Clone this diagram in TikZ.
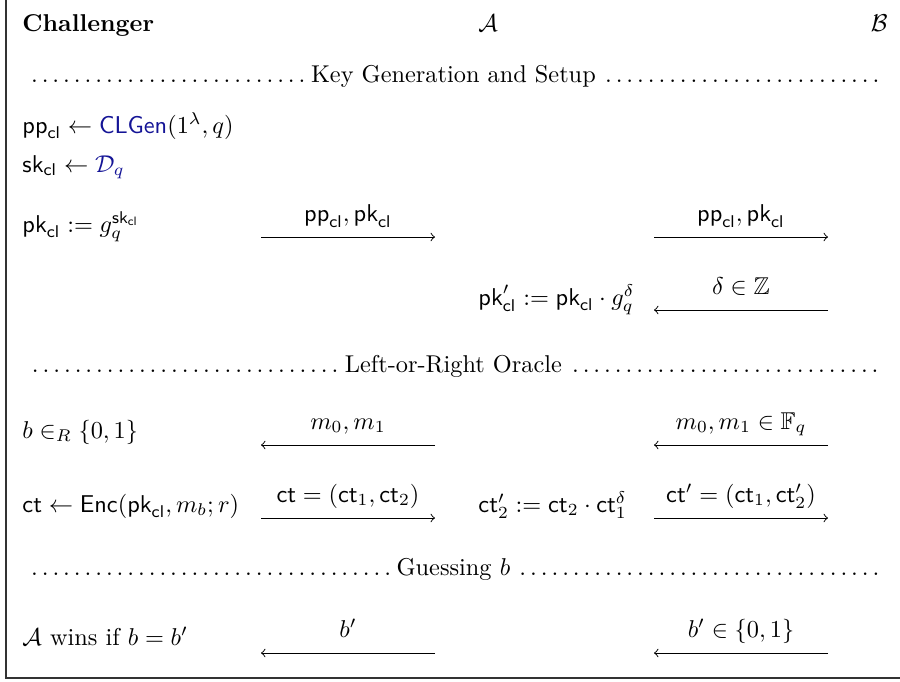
\documentclass[tikz,border=0pt]{standalone}
\usepackage{amsmath,amssymb}
\usepackage{xcolor}
\usepackage{tikz}
\usetikzlibrary{positioning}

\definecolor{algblue}{RGB}{20,20,150}
\newcommand{\sfx}[1]{\mathsf{#1}}
\newcommand{\clsub}{_{\mathsf{cl}}}

\begin{document}
\begin{tikzpicture}[
    x=0.014444cm, y=-0.014444cm,
    txt/.style={anchor=base west, inner sep=0pt},
    lbl/.style={anchor=base, inner sep=0pt, yshift=6.5pt},
    phase/.style={anchor=base west, inner sep=0pt, text width=12.42cm, align=left},
    msg/.style={->, line width=0.4pt}
]
\useasboundingbox (0,0) rectangle (900,681);
\draw[black!80, line width=0.5pt] (6,0) -- (6,678) -- (900,678);

\node[txt] (chal) at (22,31) {\textbf{Challenger}};
\node[txt] (adv) at (478,31) {$\mathcal{A}$};
\node[anchor=base east, inner sep=0pt] (bob) at (888,31) {$\mathcal{B}$};

\node[phase] (keygen) at (25,82) {\noindent\dotfill Key Generation and Setup\hspace{0.15em}\dotfill};
\node[txt] (pp) at (22,133) {$\sfx{pp}\clsub \leftarrow \textcolor{algblue}{\sfx{CLGen}}(1^\lambda, q)$};
\node[txt] (sk) at (22,172) {$\sfx{sk}\clsub \leftarrow \textcolor{algblue}{\mathcal{D}_q}$};
\node[txt] (pk) at (22,232) {$\sfx{pk}\clsub := g_q^{\sfx{sk}\clsub}$};
\node[txt] (pkmod) at (478,305) {$\sfx{pk}'\clsub := \sfx{pk}\clsub \cdot g_q^\delta$};

\coordinate (k1a) at (261,237); \coordinate (k1b) at (435,237);
\coordinate (k2a) at (654,237); \coordinate (k2b) at (828,237);
\coordinate (d1a) at (654,310); \coordinate (d1b) at (828,310);
\draw[msg] (k1a) -- node[lbl] {$\sfx{pp}\clsub, \sfx{pk}\clsub$} (k1b);
\draw[msg] (k2a) -- node[lbl] {$\sfx{pp}\clsub, \sfx{pk}\clsub$} (k2b);
\draw[msg] (d1b) -- node[lbl] {$\delta \in \mathbb{Z}$} (d1a);

\node[phase] (lor) at (25,372) {\noindent\dotfill Left-or-Right Oracle\hspace{0.15em}\dotfill};
\node[txt] (bit) at (22,438) {$b \in_R \{0,1\}$};
\node[txt] (enc) at (22,512) {$\sfx{ct} \leftarrow \sfx{Enc}(\sfx{pk}\clsub, m_b; r)$};
\node[txt] (ctmod) at (478,512) {$\sfx{ct}_2' := \sfx{ct}_2 \cdot \sfx{ct}_1^\delta$};

\coordinate (m1a) at (261,445); \coordinate (m1b) at (435,445);
\coordinate (m2a) at (654,445); \coordinate (m2b) at (828,445);
\coordinate (c1a) at (261,518); \coordinate (c1b) at (435,518);
\coordinate (c2a) at (654,518); \coordinate (c2b) at (828,518);
\draw[msg] (m1b) -- node[lbl] {$m_0, m_1$} (m1a);
\draw[msg] (m2b) -- node[lbl] {$m_0, m_1 \in \mathbb{F}_q$} (m2a);
\draw[msg] (c1a) -- node[lbl] {$\sfx{ct} = (\sfx{ct}_1, \sfx{ct}_2)$} (c1b);
\draw[msg] (c2a) -- node[lbl] {$\sfx{ct}' = (\sfx{ct}_1, \sfx{ct}_2')$} (c2b);

\node[phase] (guess) at (25,575) {\noindent\dotfill Guessing $b$\hspace{0.15em}\dotfill};
\node[txt] (win) at (22,645) {$\mathcal{A}$ wins if $b = b'$};

\coordinate (g1a) at (261,653); \coordinate (g1b) at (435,653);
\coordinate (g2a) at (654,653); \coordinate (g2b) at (828,653);
\draw[msg] (g1b) -- node[lbl] {$b'$} (g1a);
\draw[msg] (g2b) -- node[lbl] {$b' \in \{0,1\}$} (g2a);
\end{tikzpicture}
\end{document}
